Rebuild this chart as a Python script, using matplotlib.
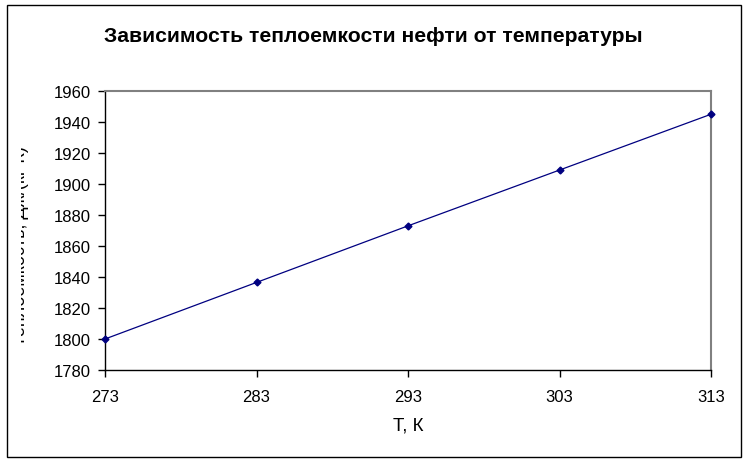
import matplotlib.pyplot as plt
from matplotlib.patches import Rectangle

temperature = [273, 283, 293, 303, 313]
heat_capacity = [1800, 1836.5, 1873, 1909, 1945]

x_ticks = [273, 283, 293, 303, 313]
y_ticks = list(range(1780, 1961, 20))

W, H = 747, 464
plt.rcParams["font.family"] = ["Liberation Sans", "DejaVu Sans"]

fig = plt.figure(figsize=(W / 100, H / 100), dpi=100)
fig.patch.set_facecolor("white")

# outer chart frame
fig.patches.append(Rectangle((7 / W, 6 / H), 734 / W, 452 / H, transform=fig.transFigure,
                             fill=False, edgecolor="black", linewidth=1.0, zorder=6))

ax = fig.add_axes([105 / W, (H - 371) / H, 606 / W, 279 / H])
ax.plot(temperature, heat_capacity, color="#000080", linewidth=0.9,
        marker="D", markersize=3.5, markerfacecolor="#000080", markeredgecolor="#000080",
        clip_on=False, zorder=5)

ax.set_xlim(273, 313)
ax.set_ylim(1780, 1960)
ax.set_xticks(x_ticks)
ax.set_yticks(y_ticks)
ax.tick_params(axis="both", direction="out", length=5, width=1, colors="black",
               labelsize=12)
ax.tick_params(axis="x", pad=9)
ax.tick_params(axis="y", pad=5)

for side in ("top", "right"):
    ax.spines[side].set_color("#808080")
    ax.spines[side].set_linewidth(1.5)
for side in ("left", "bottom"):
    ax.spines[side].set_color("black")
    ax.spines[side].set_linewidth(1.0)

ax.set_xlabel("Т, К", fontsize=13.5, labelpad=9)

fig.text(0.5, 1 - 37 / H, "Зависимость теплоемкости нефти от температуры",
         ha="center", va="center", fontsize=15.2, fontweight="bold")

# y-axis label, mostly cut off in the original chart
fig.text(25 / W, 1 - 246 / H, "Теплоемкость, Дж/(кг·К)", rotation=90,
         rotation_mode="anchor", ha="center", va="baseline", fontsize=13, zorder=3)
fig.patches.append(Rectangle((8 / W, 94 / H), 13 / W, 270 / H, transform=fig.transFigure,
                             facecolor="white", edgecolor="none", zorder=5))

fig.savefig("out.png", dpi=100)
